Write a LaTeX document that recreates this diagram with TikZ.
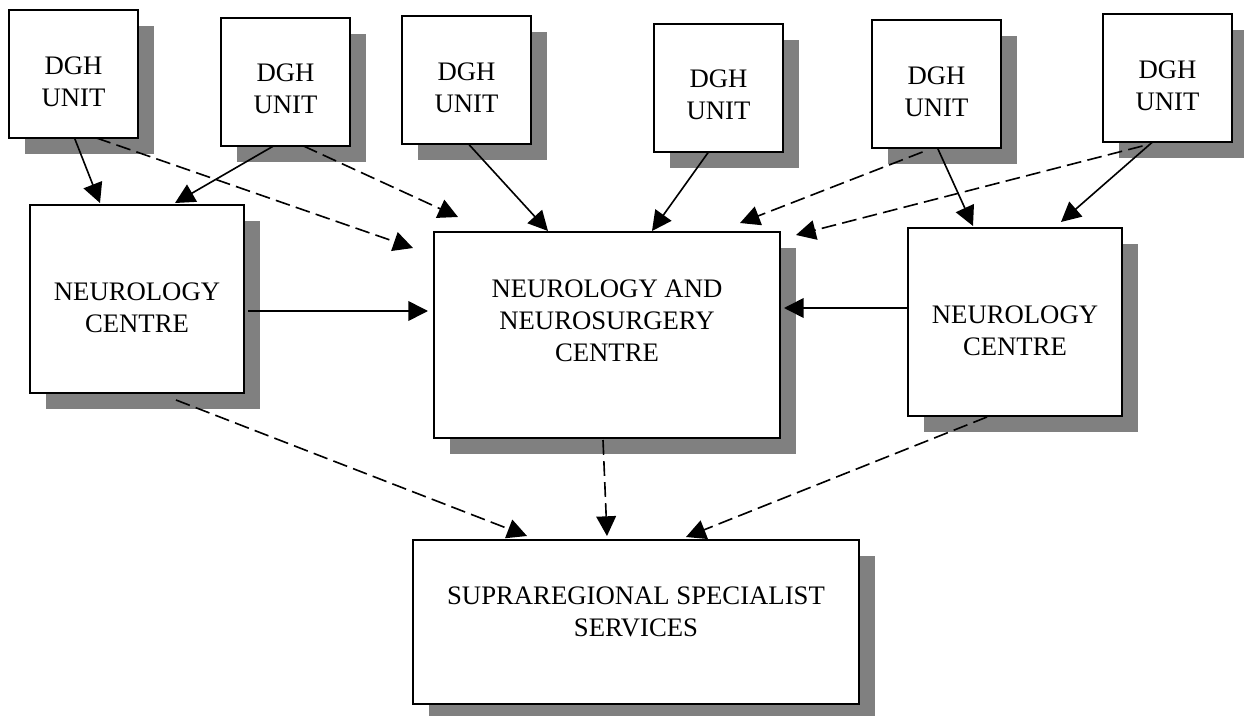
\documentclass[tikz,border=0pt]{standalone}
\usepackage{fontspec}
\setmainfont{Liberation Serif}
\usetikzlibrary{
  arrows.meta,
  shadows,
  calc
}
\begin{document}
\begin{tikzpicture}[
  x=0.025cm, y=-0.025cm,
  box/.style 2 args = {draw, line width=1.3pt, fill=white,
    anchor=north west, inner sep=0pt, outer sep=0pt,
    minimum width=#1*0.025cm, minimum height=#2*0.025cm,
    drop shadow={shadow xshift=0.4cm, shadow yshift=-0.4cm,
      opacity=1, fill=black!50}},
  txt/.style = {align=center, inner sep=0pt,
    font=\fontsize{19}{22.6}\selectfont},
  feed/.style = {line width=1.15pt, -{Triangle[length=14pt,width=14pt]}},
  refer/.style = {feed, dash pattern=on 10.5pt off 4.5pt}]
  \useasboundingbox (0,0) rectangle (1244,716);

  \node[box={129}{128}] (d1) at (9,10) {};
  \node[box={129}{128}] (d2) at (221,18) {};
  \node[box={129}{128}] (d3) at (402,16) {};
  \node[box={129}{128}] (d4) at (654,24) {};
  \node[box={129}{128}] (d5) at (872,20) {};
  \node[box={129}{128}] (d6) at (1103,14) {};
  \node[box={214}{188}] (ncl) at (30,205) {};
  \node[box={346}{206}] (nnc) at (434,232) {};
  \node[box={214}{188}] (ncr) at (908,228) {};
  \node[box={446}{164}] (sss) at (413,540) {};

  \node[txt] (d1t) at ($(d1.center)+(0,8)$) {DGH\\UNIT};
  \node[txt] (d2t) at ($(d2.center)+(0,7)$) {DGH\\UNIT};
  \node[txt] (d3t) at ($(d3.center)+(0,8)$) {DGH\\UNIT};
  \node[txt] (d4t) at ($(d4.center)+(0,7)$) {DGH\\UNIT};
  \node[txt] (d5t) at ($(d5.center)+(0,8)$) {DGH\\UNIT};
  \node[txt] (d6t) at ($(d6.center)+(0,8)$) {DGH\\UNIT};
  \node[txt] (nclt) at ($(ncl.center)+(0,9)$) {NEUROLOGY\\CENTRE};
  \node[txt] (nnct) at ($(nnc.center)+(0,-14)$) {NEUROLOGY AND\\NEUROSURGERY\\CENTRE};
  \node[txt] (ncrt) at ($(ncr.center)+(0,9)$) {NEUROLOGY\\CENTRE};
  \node[txt] (ssst) at ($(sss.center)+(0,-10)$) {SUPRAREGIONAL SPECIALIST\\SERVICES};

  \coordinate (e1) at (413,248);
  \coordinate (e2) at (458,217);
  \coordinate (e3) at (740,223);
  \coordinate (e4) at (796,235);

  \draw[feed] ($(d1.south)+(1,0)$) -- ($(ncl.north)+(-37,-2)$);
  \draw[feed] ($(d2.south)+(-12,0)$) -- ($(ncl.north)+(38,-2)$);
  \draw[feed] ($(d3.south)+(2,0)$) -- ($(nnc.north)+(-59,-1)$);
  \draw[feed] ($(d4.south)+(-10,0)$) -- ($(nnc.north)+(45,-1)$);
  \draw[feed] ($(d5.south)+(1,0)$) -- ($(ncr.north)+(-42,-2)$);
  \draw[feed] ($(d6.south)+(-15,0)$) -- ($(ncr.north)+(46,-6)$);
  \draw[feed] ($(ncl.east)+(4,12)$) -- ($(nnc.west)+(-6,-24)$);
  \draw[feed] ($(ncr.west)+(0,-14)$) -- ($(nnc.east)+(4,-27)$);

  \draw[refer] ($(d1.south)+(23,0)$) -- (e1);
  \draw[refer] ($(d2.south)+(18,0)$) -- (e2);
  \draw[refer] ($(d5.south)+(-14,4)$) -- (e3);
  \draw[refer] ($(d6.south)+(-25,4)$) -- (e4);
  \draw[refer] ($(ncl.south)+(39,7)$) -- ($(sss.north)+(-109,-4)$);
  \draw[refer] ($(nnc.south)+(-4,2)$) -- ($(sss.north)+(-29,-4)$);
  \draw[refer] ($(ncr.south)+(-28,1)$) -- ($(sss.north)+(50,-3)$);
\end{tikzpicture}
\end{document}
